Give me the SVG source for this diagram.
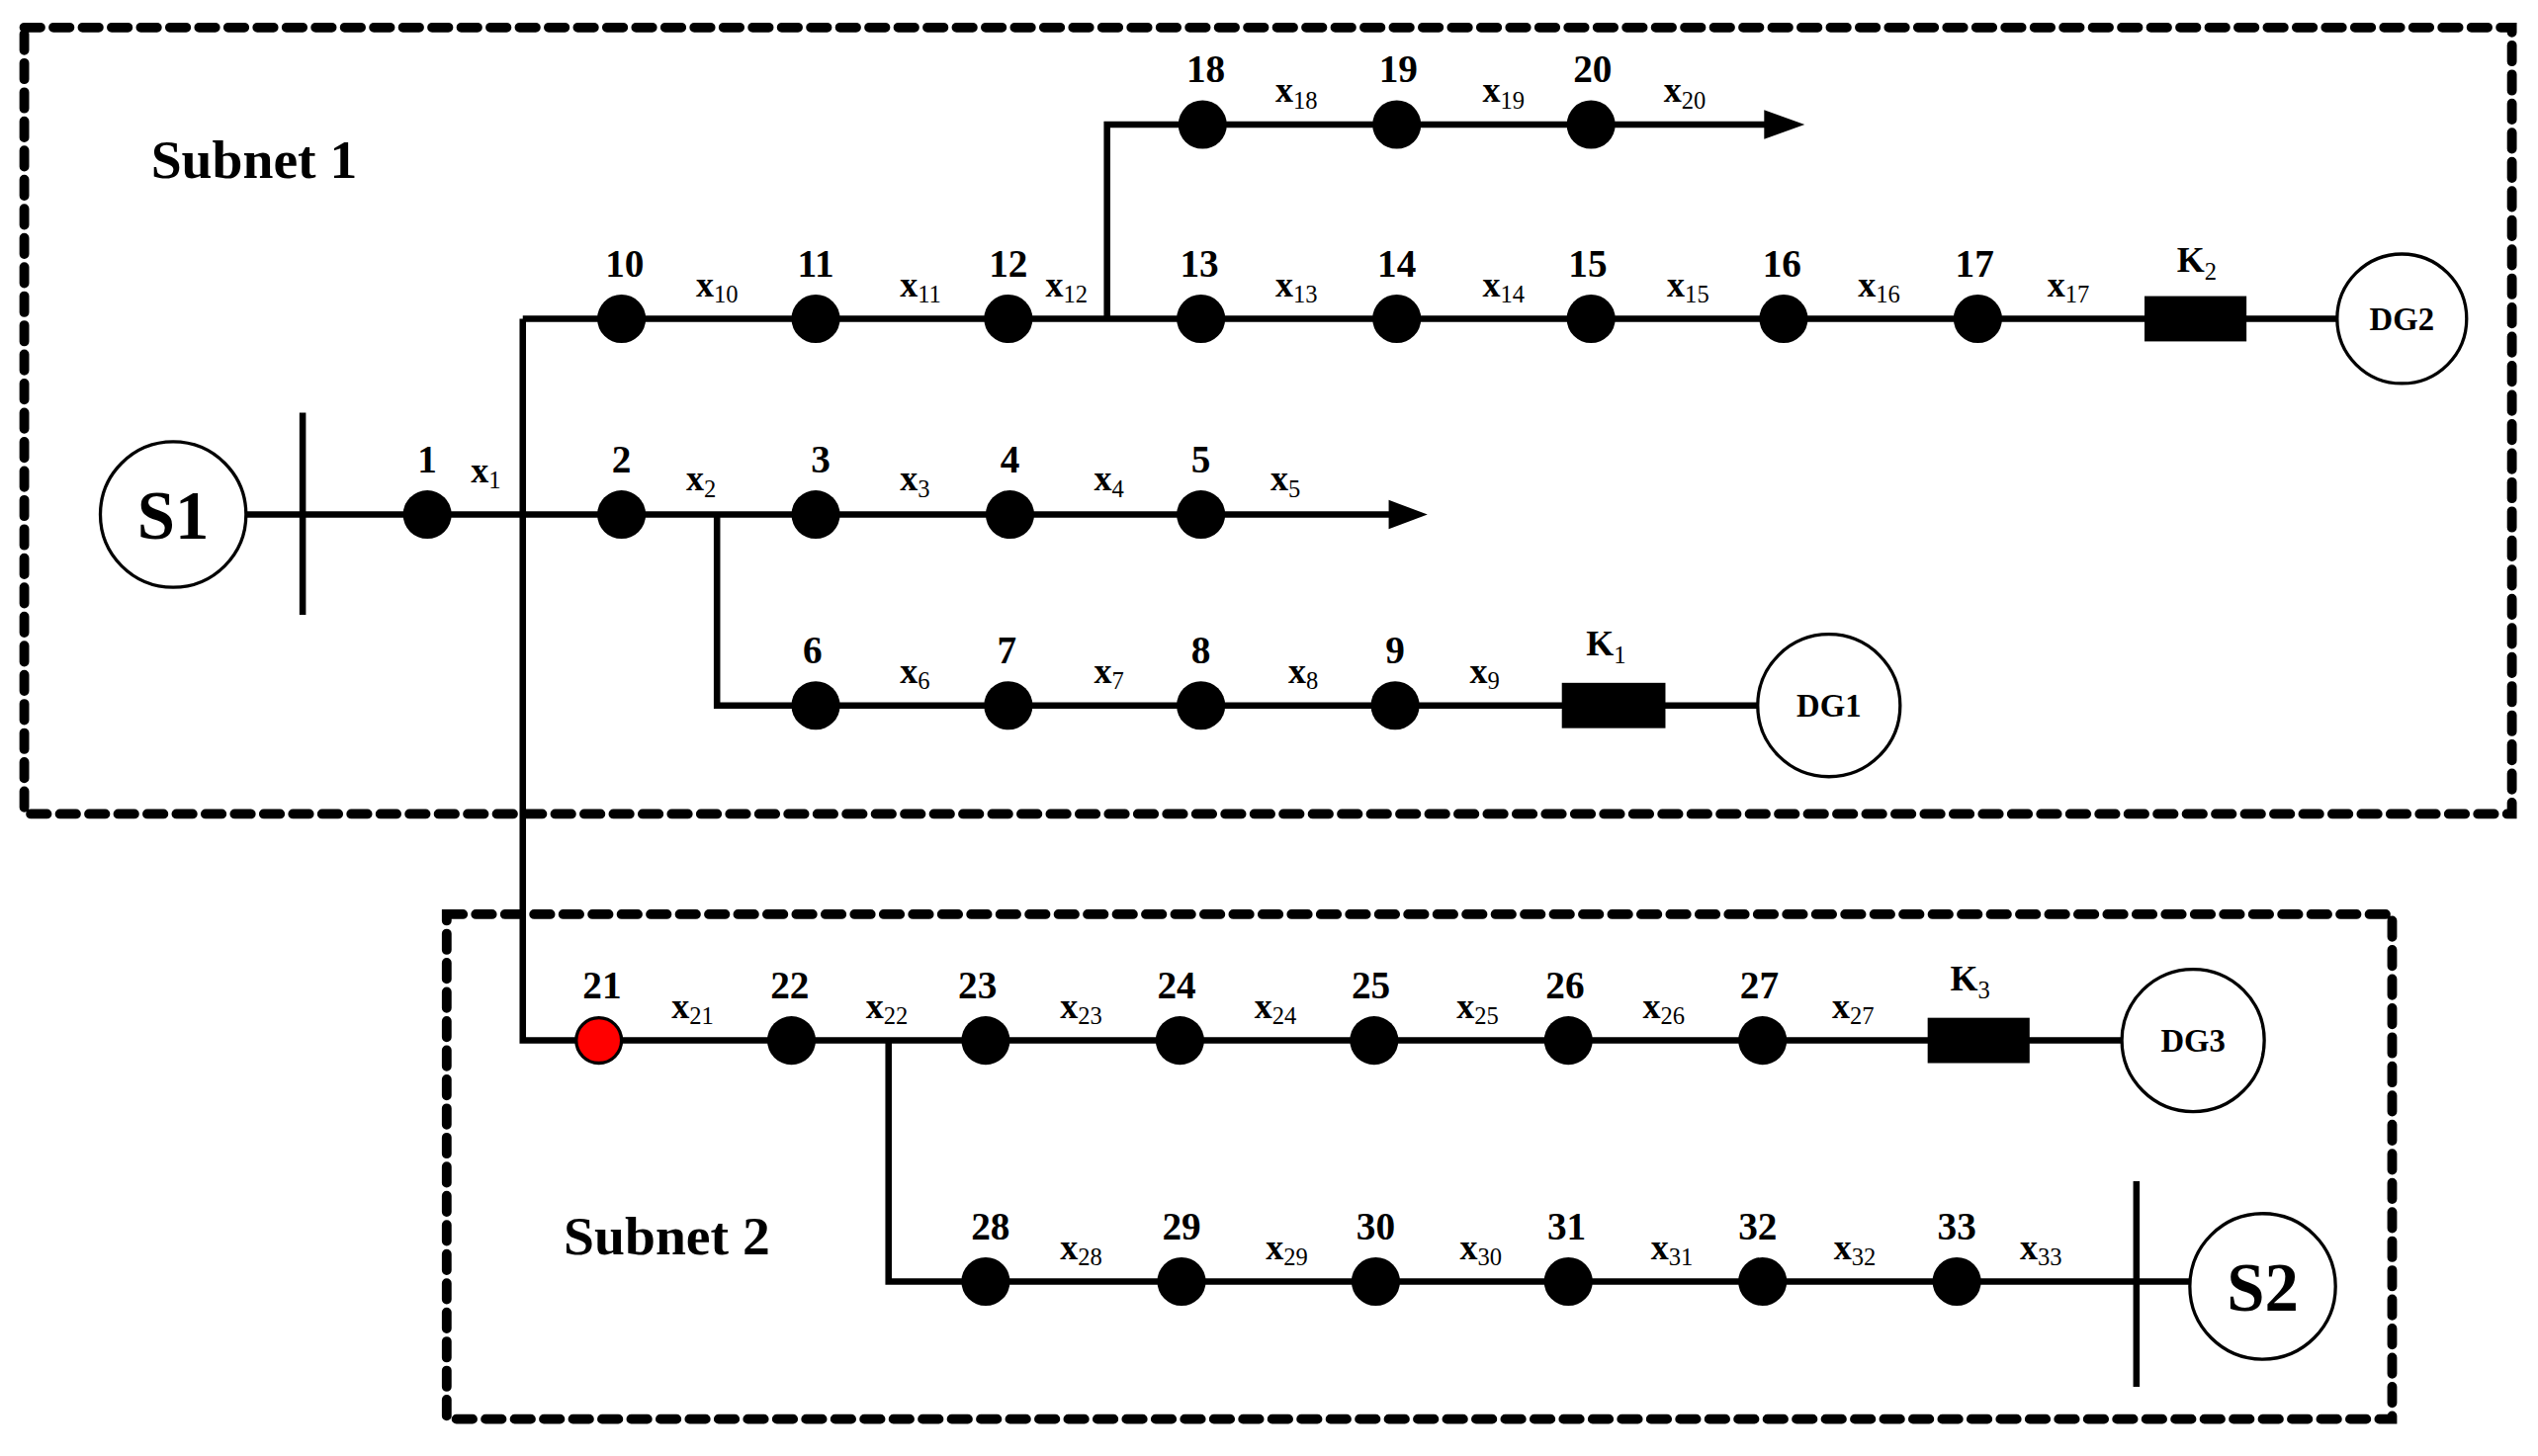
<svg xmlns="http://www.w3.org/2000/svg" width="2567" height="1473" viewBox="0 0 2567 1473">
<style>
.ln{stroke:#000;stroke-width:4;fill:none}
.box{stroke:#000;stroke-width:6;fill:none;stroke-dasharray:10 8;stroke-linecap:round}
.nd{fill:#000}
.num{font-family:"Liberation Serif",serif;font-weight:bold;font-size:24px;text-anchor:middle}
.xl{font-family:"Liberation Serif",serif;font-weight:bold;font-size:22px}
.sb{font-size:15px;font-weight:normal}
.big{font-family:"Liberation Serif",serif;font-weight:bold;text-anchor:middle}
.circ{fill:#fff;stroke:#000;stroke-width:2}
</style>
<defs><marker id="ar" markerWidth="10" markerHeight="8" refX="9" refY="4" orient="auto" markerUnits="userSpaceOnUse" viewBox="0 0 10 8"><path d="M0,0 L10,4 L0,8 z"/></marker></defs>
<rect width="2567" height="1473" fill="#fff"/>
<g transform="scale(1.637)">
<rect class="box" x="15" y="17" width="1537" height="486"/>
<rect class="box" x="276" y="565" width="1202" height="312"/>
<text class="big" x="157" y="110" font-size="34">Subnet 1</text>
<text class="big" x="412" y="775" font-size="34">Subnet 2</text>
<g id="connectors">
<line class="ln" x1="152" y1="318" x2="870" y2="318"/>
<path d="M858,309 L882,318 L858,327 z"/>
<line class="ln" x1="187" y1="255" x2="187" y2="380"/>
<polyline class="ln" points="323,197 323,643 1311,643"/>
<line class="ln" x1="323" y1="197" x2="1444" y2="197"/>
<polyline class="ln" points="684,197 684,77 1100,77"/>
<path d="M1090,68 L1115,77 L1090,86 z"/>
<polyline class="ln" points="443,318 443,436 1086,436"/>
<polyline class="ln" points="549,643 549,792 1320,792"/>
<line class="ln" x1="1320" y1="730" x2="1320" y2="857"/>
<line class="ln" x1="1320" y1="792" x2="1353" y2="792"/>
</g>
<g id="S1"><circle class="circ" cx="107" cy="318" r="45"/><text class="big" x="107" y="333" font-size="42">S1</text></g>
<g id="S2"><circle class="circ" cx="1398" cy="795" r="45"/><text class="big" x="1398" y="810" font-size="42">S2</text></g>
<g id="DG1"><circle class="circ" cx="1130" cy="436" r="44"/><text class="big" x="1130" y="443" font-size="20">DG1</text></g>
<g id="DG2"><circle class="circ" cx="1484" cy="197" r="40"/><text class="big" x="1484" y="204" font-size="20">DG2</text></g>
<g id="DG3"><circle class="circ" cx="1355" cy="643" r="44"/><text class="big" x="1355" y="650" font-size="20">DG3</text></g>
<g id="K1"><rect x="965" y="422" width="64" height="28"/><text class="xl" x="980" y="405">K<tspan class="sb" dy="5">1</tspan></text></g>
<g id="K2"><rect x="1325" y="183" width="63" height="28"/><text class="xl" x="1345" y="168">K<tspan class="sb" dy="5">2</tspan></text></g>
<g id="K3"><rect x="1191" y="629" width="63" height="28"/><text class="xl" x="1205" y="612">K<tspan class="sb" dy="5">3</tspan></text></g>
<g id="nodes">
<g id="n1"><circle class="nd" cx="264" cy="318" r="15"/><text class="num" x="264" y="292">1</text></g>
<g id="n2"><circle class="nd" cx="384" cy="318" r="15"/><text class="num" x="384" y="292">2</text></g>
<g id="n3"><circle class="nd" cx="504" cy="318" r="15"/><text class="num" x="507" y="292">3</text></g>
<g id="n4"><circle class="nd" cx="624" cy="318" r="15"/><text class="num" x="624" y="292">4</text></g>
<g id="n5"><circle class="nd" cx="742" cy="318" r="15"/><text class="num" x="742" y="292">5</text></g>
<g id="n6"><circle class="nd" cx="504" cy="436" r="15"/><text class="num" x="502" y="410">6</text></g>
<g id="n7"><circle class="nd" cx="623" cy="436" r="15"/><text class="num" x="622" y="410">7</text></g>
<g id="n8"><circle class="nd" cx="742" cy="436" r="15"/><text class="num" x="742" y="410">8</text></g>
<g id="n9"><circle class="nd" cx="862" cy="436" r="15"/><text class="num" x="862" y="410">9</text></g>
<g id="n10"><circle class="nd" cx="384" cy="197" r="15"/><text class="num" x="386" y="171">10</text></g>
<g id="n11"><circle class="nd" cx="504" cy="197" r="15"/><text class="num" x="504" y="171">11</text></g>
<g id="n12"><circle class="nd" cx="623" cy="197" r="15"/><text class="num" x="623" y="171">12</text></g>
<g id="n13"><circle class="nd" cx="742" cy="197" r="15"/><text class="num" x="741" y="171">13</text></g>
<g id="n14"><circle class="nd" cx="863" cy="197" r="15"/><text class="num" x="863" y="171">14</text></g>
<g id="n15"><circle class="nd" cx="983" cy="197" r="15"/><text class="num" x="981" y="171">15</text></g>
<g id="n16"><circle class="nd" cx="1102" cy="197" r="15"/><text class="num" x="1101" y="171">16</text></g>
<g id="n17"><circle class="nd" cx="1222" cy="197" r="15"/><text class="num" x="1220" y="171">17</text></g>
<g id="n18"><circle class="nd" cx="743" cy="77" r="15"/><text class="num" x="745" y="51">18</text></g>
<g id="n19"><circle class="nd" cx="863" cy="77" r="15"/><text class="num" x="864" y="51">19</text></g>
<g id="n20"><circle class="nd" cx="983" cy="77" r="15"/><text class="num" x="984" y="51">20</text></g>
<g id="n21"><circle cx="370" cy="643" r="14" fill="#f00" stroke="#000" stroke-width="2"/><text class="num" x="372" y="617">21</text></g>
<g id="n22"><circle class="nd" cx="489" cy="643" r="15"/><text class="num" x="488" y="617">22</text></g>
<g id="n23"><circle class="nd" cx="609" cy="643" r="15"/><text class="num" x="604" y="617">23</text></g>
<g id="n24"><circle class="nd" cx="729" cy="643" r="15"/><text class="num" x="727" y="617">24</text></g>
<g id="n25"><circle class="nd" cx="849" cy="643" r="15"/><text class="num" x="847" y="617">25</text></g>
<g id="n26"><circle class="nd" cx="969" cy="643" r="15"/><text class="num" x="967" y="617">26</text></g>
<g id="n27"><circle class="nd" cx="1089" cy="643" r="15"/><text class="num" x="1087" y="617">27</text></g>
<g id="n28"><circle class="nd" cx="609" cy="792" r="15"/><text class="num" x="612" y="766">28</text></g>
<g id="n29"><circle class="nd" cx="730" cy="792" r="15"/><text class="num" x="730" y="766">29</text></g>
<g id="n30"><circle class="nd" cx="850" cy="792" r="15"/><text class="num" x="850" y="766">30</text></g>
<g id="n31"><circle class="nd" cx="969" cy="792" r="15"/><text class="num" x="968" y="766">31</text></g>
<g id="n32"><circle class="nd" cx="1089" cy="792" r="15"/><text class="num" x="1086" y="766">32</text></g>
<g id="n33"><circle class="nd" cx="1209" cy="792" r="15"/><text class="num" x="1209" y="766">33</text></g>
</g>
<g id="labels">
<text class="xl" x="291" y="298">x<tspan class="sb" dy="4">1</tspan></text>
<text class="xl" x="424" y="303">x<tspan class="sb" dy="4">2</tspan></text>
<text class="xl" x="556" y="303">x<tspan class="sb" dy="4">3</tspan></text>
<text class="xl" x="676" y="303">x<tspan class="sb" dy="4">4</tspan></text>
<text class="xl" x="785" y="303">x<tspan class="sb" dy="4">5</tspan></text>
<text class="xl" x="556" y="422">x<tspan class="sb" dy="4">6</tspan></text>
<text class="xl" x="676" y="422">x<tspan class="sb" dy="4">7</tspan></text>
<text class="xl" x="796" y="422">x<tspan class="sb" dy="4">8</tspan></text>
<text class="xl" x="908" y="422">x<tspan class="sb" dy="4">9</tspan></text>
<text class="xl" x="430" y="183">x<tspan class="sb" dy="4">10</tspan></text>
<text class="xl" x="556" y="183">x<tspan class="sb" dy="4">11</tspan></text>
<text class="xl" x="646" y="183">x<tspan class="sb" dy="4">12</tspan></text>
<text class="xl" x="788" y="183">x<tspan class="sb" dy="4">13</tspan></text>
<text class="xl" x="916" y="183">x<tspan class="sb" dy="4">14</tspan></text>
<text class="xl" x="1030" y="183">x<tspan class="sb" dy="4">15</tspan></text>
<text class="xl" x="1148" y="183">x<tspan class="sb" dy="4">16</tspan></text>
<text class="xl" x="1265" y="183">x<tspan class="sb" dy="4">17</tspan></text>
<text class="xl" x="788" y="63">x<tspan class="sb" dy="4">18</tspan></text>
<text class="xl" x="916" y="63">x<tspan class="sb" dy="4">19</tspan></text>
<text class="xl" x="1028" y="63">x<tspan class="sb" dy="4">20</tspan></text>
<text class="xl" x="415" y="629">x<tspan class="sb" dy="4">21</tspan></text>
<text class="xl" x="535" y="629">x<tspan class="sb" dy="4">22</tspan></text>
<text class="xl" x="655" y="629">x<tspan class="sb" dy="4">23</tspan></text>
<text class="xl" x="775" y="629">x<tspan class="sb" dy="4">24</tspan></text>
<text class="xl" x="900" y="629">x<tspan class="sb" dy="4">25</tspan></text>
<text class="xl" x="1015" y="629">x<tspan class="sb" dy="4">26</tspan></text>
<text class="xl" x="1132" y="629">x<tspan class="sb" dy="4">27</tspan></text>
<text class="xl" x="655" y="778">x<tspan class="sb" dy="4">28</tspan></text>
<text class="xl" x="782" y="778">x<tspan class="sb" dy="4">29</tspan></text>
<text class="xl" x="902" y="778">x<tspan class="sb" dy="4">30</tspan></text>
<text class="xl" x="1020" y="778">x<tspan class="sb" dy="4">31</tspan></text>
<text class="xl" x="1133" y="778">x<tspan class="sb" dy="4">32</tspan></text>
<text class="xl" x="1248" y="778">x<tspan class="sb" dy="4">33</tspan></text>
</g>
</g>
</svg>
